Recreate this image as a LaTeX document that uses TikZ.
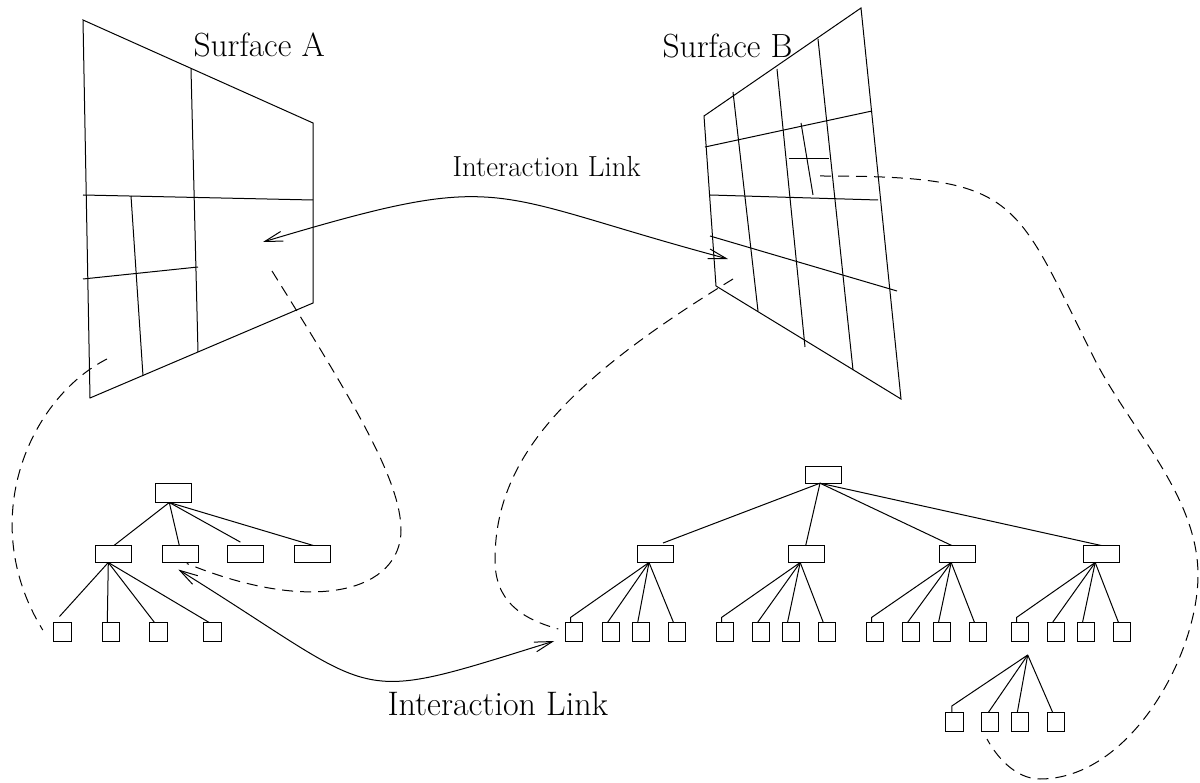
\documentclass[tikz,border=0pt]{standalone}
\usetikzlibrary{arrows.meta,calc}
\begin{document}
\begin{tikzpicture}[x=1pt,y=-1pt,line width=1pt,
  box/.style={draw,line width=1pt,minimum width=36pt,minimum height=17pt,inner sep=0pt,outer sep=0pt},
  sq/.style={draw,line width=1pt,minimum width=17.5pt,minimum height=19pt,inner sep=0pt,outer sep=0pt},
  link/.style={line width=1pt,{Straight Barb[length=18pt,width=10pt]}-{Straight Barb[length=18pt,width=10pt]}},
  dsh/.style={line width=1pt,dash pattern=on 11pt off 7pt},
  lbl/.style={inner sep=0pt,font=\fontsize{33.5}{38}\selectfont}]
\useasboundingbox (0,0) rectangle (1200,783);

% Surface A
\draw (83,20) -- (313,123) -- (313,303) -- (90,398) -- cycle;
\draw (191,69) -- (198,352);
\draw (83,195) -- (313,200);
\draw (131,196) -- (143,376);
\draw (83,279) -- (198,267);

% Surface B
\draw (704,116) -- (861,8) -- (901,399) -- (716,286) -- cycle;
\draw (733,92) -- (758,311);
\draw (777,69) -- (805,347);
\draw (818,39) -- (853,370);
\draw (705,147) -- (872,111);
\draw (710,195) -- (878,200);
\draw (710,236) -- (897,291);
\draw (789,159) -- (829,159);
\draw (801,123) -- (813,195);

% labels
\node[lbl,anchor=base west] (la) at (193,57) {Surface A};
\node[lbl,anchor=base east] (lb) at (793,58) {Surface B};
\node[lbl,font=\fontsize{29}{33}\selectfont,anchor=base west] (lt) at (452,177) {Interaction Link};
\node[lbl,font=\fontsize{34}{39}\selectfont,anchor=base west] (lbt) at (387,715) {Interaction Link};

% Left tree
\node[box,minimum height=19pt] (lr) at (173.3,493) {};
\node[box] (l1) at (113,554) {};
\node[box] (l2) at (180.3,554) {};
\node[box] (l3) at (245,554) {};
\node[box] (l4) at (312.3,554) {};
\node[sq] (p1) at (62.5,632) {};
\node[sq] (p2) at (110.8,632) {};
\node[sq] (p3) at (158.5,632) {};
\node[sq] (p4) at (212.7,632) {};
\coordinate (lro) at ($(lr.south)+(-4,0)$);
\draw (lro) -- ($(l1.north)+(1,0)$);
\draw (lro) -- ($(l2.north)+(-1,0)$);
\draw[shorten >=7pt] (lro) -- ($(l3.north)+(1.5,0)$);
\draw (lro) -- ($(l4.north)+(1,0)$);
\coordinate (l1o) at ($(l1.south)+(-4.7,0)$);
\draw (l1o) -- ($(p1.north)+(-3,-6)$);
\draw (l1o) -- ($(p2.north)+(-3.5,0)$);
\draw (l1o) -- ($(p3.north)+(-4,0)$);
\draw (l1o) -- ($(p4.north)+(-3.5,0)$);

% Right tree
\node[box] (rr) at (823.5,474.7) {};
\node[box] (r1) at (655.5,554) {};
\node[box] (r2) at (806.7,554) {};
\node[box] (r3) at (957.7,554) {};
\node[box] (r4) at (1101.7,554) {};
\node[sq] (a1) at (574,632) {};
\node[sq] (a2) at (611,632) {};
\node[sq] (a3) at (641.2,632) {};
\node[sq] (a4) at (677,632) {};
\node[sq] (b1) at (725,632) {};
\node[sq] (b2) at (761,632) {};
\node[sq] (b3) at (791,632) {};
\node[sq] (b4) at (826.8,632) {};
\node[sq] (c1) at (875,632) {};
\node[sq] (c2) at (911,632) {};
\node[sq] (c3) at (942,632) {};
\node[sq] (c4) at (978,632) {};
\node[sq] (d1) at (1020,632) {};
\node[sq] (d2) at (1056,632) {};
\node[sq] (d3) at (1086,632) {};
\node[sq] (d4) at (1122,632) {};
\node[sq] (e1) at (954.3,722) {};
\node[sq] (e2) at (990,722) {};
\node[sq] (e3) at (1020,722) {};
\node[sq] (e4) at (1056,722) {};

\coordinate (rro) at ($(rr.south)+(-3.5,0)$);
\draw[shorten >=7pt] (rro) -- ($(r1.north)+(1,0)$);
\draw (rro) -- ($(r2.north)+(-1,0)$);
\draw (rro) -- ($(r3.north)+(-6,0)$);
\draw (rro) -- ($(r4.north)+(-0.5,0)$);

\foreach \p/\a/\b/\c/\d in {r1/a1/a2/a3/a4, r2/b1/b2/b3/b4, r3/c1/c2/c3/c4, r4/d1/d2/d3/d4}{
  \coordinate (o\p) at ($(\p.south)+(-6.5,0)$);
  \draw (o\p) -- ($(\a.north)+(-3.5,-5)$) -- ($(\a.north)+(-3.5,0)$);
  \draw (o\p) -- ($(\b.north)+(-3.5,0)$);
  \draw (o\p) -- ($(\c.north)+(-3.5,0)$);
  \draw (o\p) -- ($(\d.north)+(-3.5,0)$);
}
\coordinate (so) at (1027.7,655);
\draw (so) -- ($(e1.north)+(-2.5,-6.5)$) -- ($(e1.north)+(-2.5,0)$);
\draw (so) -- ($(e2.north)+(-1.7,0)$);
\draw (so) -- ($(e3.north)+(-2.7,0)$);
\draw (so) -- ($(e4.north)+(-3.3,0)$);

% Interaction links
\coordinate (ta) at (263,242);
\coordinate (tb) at (728,259);
\draw[link] (ta) .. controls (510,168) and (481,193) .. (tb);
\draw[link] ($(l2.south)+(-2,7)$) .. controls (387,699) and (345,706) .. ($(a1.west)+(-11,9)$);

% dashed correspondences
\coordinate (sa1) at (107,359);
\draw[dsh] (sa1) .. controls (30,398) and (-25,520) .. ($(p1.west)+(-11,-2)$);
\coordinate (sa2) at (272,271);
\draw[dsh] (sa2) .. controls (351.5,398.5) and (401,480) .. (401,530)
   .. controls (401,590) and (315.8,616.2) .. ($(l2.south)+(6.5,1)$);
\coordinate (sb1) at (733,279);
\draw[dsh] (sb1) .. controls (563,383) and (495,460) .. (495,560)
   .. controls (495,600) and (519.6,618.2) .. ($(a1.west)+(-7,-3)$);
\coordinate (sb2) at (820,176);
\draw[dsh] (sb2) .. controls (1020,176) and (1012.8,195.8) .. (1093.3,356.7)
   .. controls (1129,428.2) and (1198,495) .. (1198,575)
   .. controls (1198,655) and (1130,779) .. (1040,779)
   .. controls (1015,779) and (996,755.8) .. ($(e2.south)+(-3,7.5)$);
\end{tikzpicture}
\end{document}
